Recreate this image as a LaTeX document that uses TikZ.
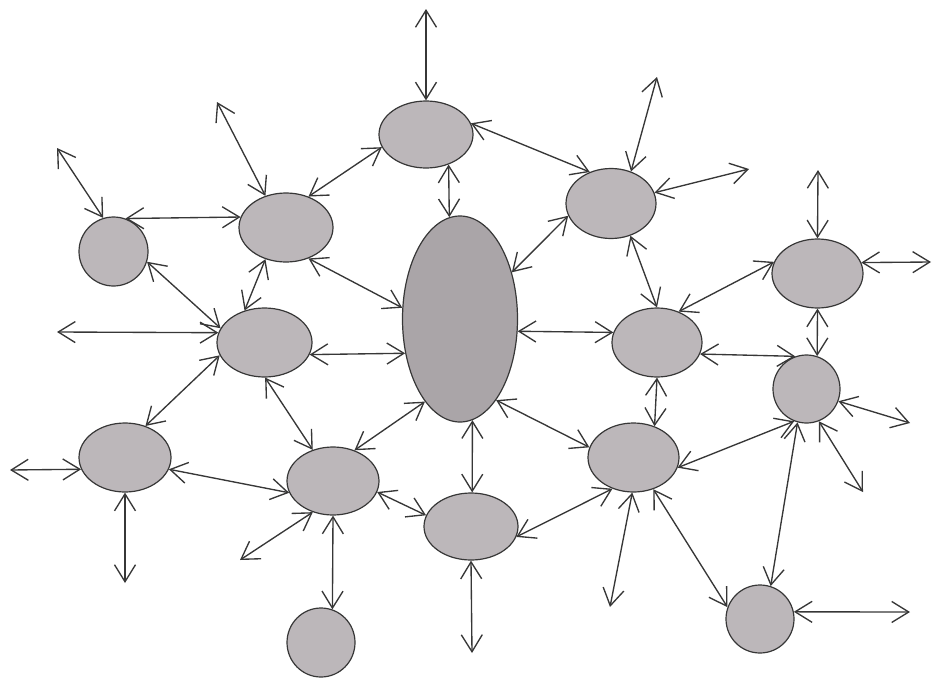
\documentclass[tikz,border=0pt]{standalone}
\usetikzlibrary{shapes.geometric,arrows.meta}
\definecolor{blobgray}{RGB}{188,183,186}
\definecolor{biggray}{RGB}{170,165,168}
\definecolor{inkgray}{RGB}{55,55,55}
\begin{document}
\begin{tikzpicture}[x=1pt,y=-1pt,
  blob/.style={ellipse,draw=inkgray,line width=1.2pt,fill=blobgray,inner sep=0pt},
  big/.style={blob,fill=biggray},
  dar/.style={{Straight Barb[length=17pt,width=21pt]}-{Straight Barb[length=17pt,width=21pt]},line width=1.35pt,draw=inkgray}]
\useasboundingbox (0,0) rectangle (934,680);
% nodes
\node[blob,minimum width=94,minimum height=67] (A) at (426,134.5) {};
\node[big,minimum width=115,minimum height=206] (C) at (460,319) {};
\node[blob,minimum width=94,minimum height=69] (LT) at (286,227.5) {};
\node[blob,minimum width=69,minimum height=69] (FL) at (113.5,251.5) {};
\node[blob,minimum width=95,minimum height=69] (LM) at (264.5,342.5) {};
\node[blob,minimum width=92,minimum height=69] (LB) at (125,457.5) {};
\node[blob,minimum width=92,minimum height=68] (ML) at (333,481) {};
\node[blob,minimum width=68,minimum height=69] (BC) at (321,642.5) {};
\node[blob,minimum width=94,minimum height=67] (BM) at (471,526.5) {};
\node[blob,minimum width=90,minimum height=70] (RT) at (611,203.5) {};
\node[blob,minimum width=90,minimum height=69] (RM) at (657,342.5) {};
\node[blob,minimum width=91,minimum height=69] (RL) at (633.5,457.5) {};
\node[blob,minimum width=91,minimum height=69] (FRT) at (817.5,273.5) {};
\node[blob,minimum width=67,minimum height=68] (FRC) at (806.5,389) {};
\node[blob,minimum width=68,minimum height=68] (BRC) at (760,619) {};
% free ends
\coordinate (fFL) at (57,148);
\coordinate (fLT) at (217,102);
\coordinate (fLM) at (57,332);
\coordinate (fA) at (426,9);
\coordinate (fRT1) at (657,77);
\coordinate (fRT2) at (749,169);
\coordinate (fFRT1) at (818,170);
\coordinate (fFRT2) at (931,262);
\coordinate (fFRC1) at (910,423);
\coordinate (fFRC2) at (863,492);
\coordinate (fRL) at (610,607);
\coordinate (fBRC) at (910,612);
\coordinate (fBM) at (472,653);
\coordinate (fLB1) at (10,470);
\coordinate (fLB2) at (125,583);
\coordinate (fML) at (240,560);
% connectors
\draw[dar] (fFL) -- (FL.107.5);
\draw[dar] (fLT) -- (LT.123);
\draw[dar] (FL.70) -- (LT.167);
\draw[dar] (FL.-17.5) -- (LM.162);
\draw[dar] (fLM) -- (LM.168);
\draw[dar] (LT.237) -- (LM.122);
\draw[dar] (fA) -- (A.90);
\draw[dar] (A.196) -- (LT.54);
\draw[dar] (A.14) -- (RT.124);
\draw[dar] (A.-53) -- (C.96);
\draw[dar] (LT.-54) -- (C.169);
\draw[dar] (C.42) -- (RT.196);
\draw[dar] (C.-12) -- (RM.167);
\draw[dar] (fRT1) -- (RT.58);
\draw[dar] (RT.14) -- (fRT2);
\draw[dar] (RT.-59) -- (RM.90);
\draw[dar] (fFRT1) -- (FRT.90);
\draw[dar] (FRT.14) -- (fFRT2);
\draw[dar] (FRT.165) -- (RM.55);
\draw[dar] (FRT.270) -- (FRC.72);
\draw[dar] (RM.-15) -- (FRC.109);
\draw[dar] (RM.270) -- (RL.56);
\draw[dar] (FRC.-21) -- (fFRC1);
\draw[dar] (FRC.-69) -- (fFRC2);
\draw[dar] (RL.-13) -- (FRC.249);
\draw[dar] (FRC.255) -- (BRC.72);
\draw[dar] (RL.268) -- (fRL);
\draw[dar] (RL.-58) -- (BRC.160);
\draw[dar] (BRC.12) -- (fBRC);
\draw[dar] (C.-66) -- (RL.167);
\draw[dar] (BM.-13) -- (RL.236);
\draw[dar] (C.-83) -- (BM.88);
\draw[dar] (BM.270) -- (fBM);
\draw[dar] (ML.-14) -- (BM.166);
\draw[dar] (C.247) -- (ML.55);
\draw[dar] (LM.-15) -- (C.212);
\draw[dar] (LM.-89) -- (ML.123);
\draw[dar] (LM.196) -- (LB.57);
\draw[dar] (fLB1) -- (LB.195);
\draw[dar] (LB.270) -- (fLB2);
\draw[dar] (LB.-15) -- (ML.195);
\draw[dar] (ML.237) -- (fML);
\draw[dar] (ML.270) -- (BC.71);
\end{tikzpicture}
\end{document}
